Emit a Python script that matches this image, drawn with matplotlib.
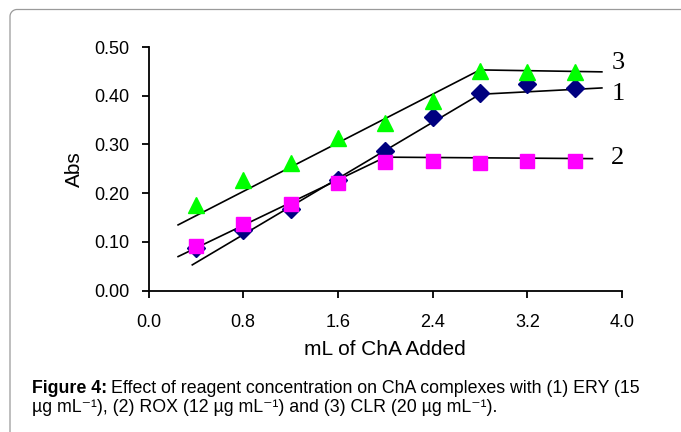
import matplotlib
matplotlib.use("Agg")
import numpy as np
import matplotlib.pyplot as plt
from matplotlib.lines import Line2D

# ---- data ----
volume = [0.4, 0.8, 1.2, 1.6, 2.0, 2.4, 2.8, 3.2, 3.6]
abs_ery = [0.088, 0.125, 0.168, 0.228, 0.286, 0.356, 0.406, 0.425, 0.416]  # (1)
abs_rox = [0.091, 0.137, 0.178, 0.221, 0.265, 0.267, 0.262, 0.267, 0.267]  # (2)
abs_clr = [0.176, 0.228, 0.262, 0.313, 0.344, 0.389, 0.451, 0.449, 0.449]  # (3)

# fitted trend segments (start, break, end)
fit1_x = [0.37, 2.8, 3.83]
fit1_y = [0.053, 0.403, 0.416]
fit2_x = [0.25, 2.0, 3.75]
fit2_y = [0.070, 0.274, 0.271]
fit3_x = [0.25, 2.8, 3.83]
fit3_y = [0.135, 0.453, 0.449]

curve_labels = ["1", "2", "3"]
label_y = [0.403, 0.273, 0.468]

xticks = [0.0, 0.8, 1.6, 2.4, 3.2, 4.0]
yticks = [0.0, 0.1, 0.2, 0.3, 0.4, 0.5]

caption_bold = "Figure 4:"
caption_line1 = "Effect of reagent concentration on ChA complexes with (1) ERY (15"
caption_line2 = "µg mL⁻¹), (2) ROX (12 µg mL⁻¹) and (3) CLR (20 µg mL⁻¹)."

plt.rcParams['font.family'] = ['Liberation Sans', 'DejaVu Sans']

W, H = 681, 432
fig = plt.figure(figsize=(W / 100, H / 100), dpi=100)


def fx(px):
    return px / W


def fy(py):
    return 1 - py / H


# outer frame (left and top edges with rounded corner)
r = 7
theta = np.linspace(np.pi, np.pi / 2, 20)
cx, cy = 10 + r, 9.5 + r
arc_x = cx + r * np.cos(theta)
arc_y = cy - r * np.sin(theta)
frame_x = np.concatenate([[10], arc_x, [W + 5]])
frame_y = np.concatenate([[H + 5], arc_y, [9.5]])
fig.add_artist(Line2D([fx(v) for v in frame_x], [fy(v) for v in frame_y],
                      transform=fig.transFigure, color='#9a9a9a',
                      linewidth=0.9))

ax = fig.add_axes([fx(148.5), fy(290.7), (622 - 148.5) / W, (290.7 - 47) / H])

for xs, ys in [(fit1_x, fit1_y), (fit2_x, fit2_y), (fit3_x, fit3_y)]:
    ax.plot(xs, ys, color='black', linewidth=1.2, zorder=2)

ax.plot(volume, abs_ery, linestyle='none', marker='D', markersize=9.5,
        color='#000080', zorder=3)
ax.plot(volume, abs_clr, linestyle='none', marker='^', markersize=11.5,
        color='#00ff00', zorder=3)
ax.plot(volume, abs_rox, linestyle='none', marker='s', markersize=10.5,
        color='#ff00ff', zorder=4)

for lab, ly in zip(curve_labels, label_y):
    ax.text(3.91, ly, lab, fontsize=19, family=['Liberation Serif'],
            va='center', ha='left', clip_on=False)

ax.set_xlim(0, 4.0)
ax.set_ylim(0, 0.5)
ax.set_xticks(xticks)
ax.set_xticklabels([f"{v:.1f}" for v in xticks])
ax.set_yticks(yticks)
ax.set_yticklabels([f"{v:.2f}" for v in yticks])
ax.spines['top'].set_visible(False)
ax.spines['right'].set_visible(False)
for s in ('left', 'bottom'):
    ax.spines[s].set_linewidth(1.3)
ax.tick_params(direction='out', length=5, width=1.3, labelsize=13)
ax.tick_params(axis='x', pad=12)
ax.tick_params(axis='y', pad=9)
ax.set_xlabel('mL of ChA Added', fontsize=15, labelpad=6)
ax.set_ylabel('Abs', fontsize=15, labelpad=7)

# caption
t_bold = fig.text(fx(32), fy(393), caption_bold, fontsize=12.8,
                  fontweight='bold', va='baseline', ha='left')
fig.canvas.draw()
bb = t_bold.get_window_extent()
fig.text((bb.x1 + 4) / W, fy(393), caption_line1, fontsize=12.8,
         va='baseline', ha='left')
fig.text(fx(32), fy(411.5), caption_line2, fontsize=12.8,
         va='baseline', ha='left')

fig.savefig('out.png', dpi=100)
